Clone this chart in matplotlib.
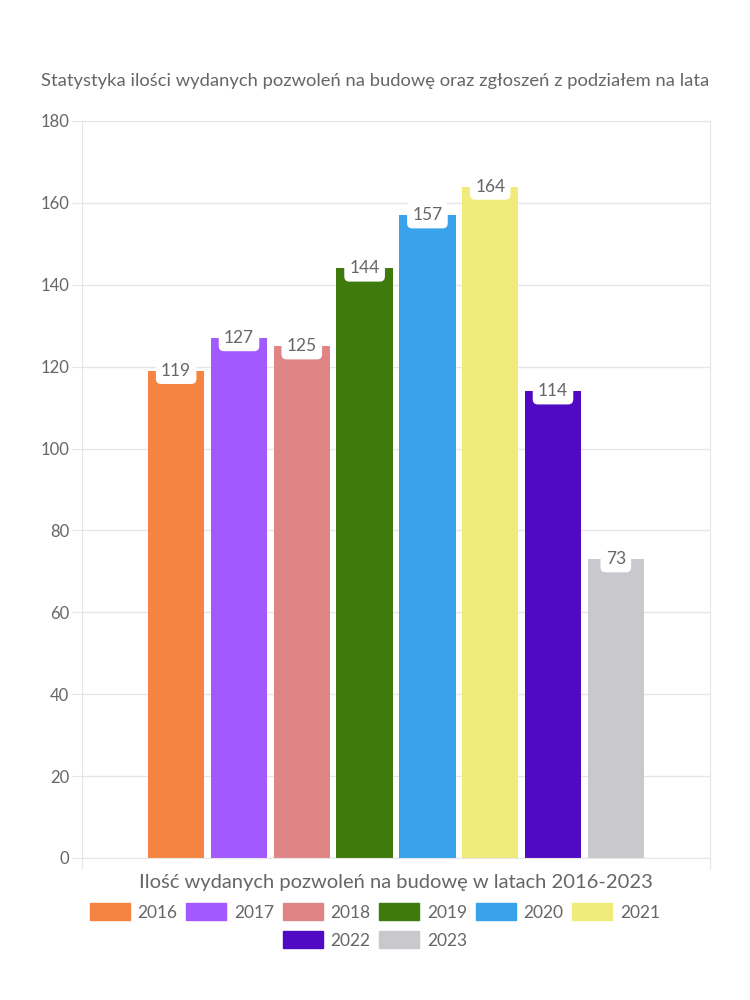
import matplotlib.pyplot as plt
from matplotlib.patches import Patch

plt.rcParams['font.family'] = ['Lato', 'DejaVu Sans']

years = ["2016", "2017", "2018", "2019", "2020", "2021", "2022", "2023"]
values = [119, 127, 125, 144, 157, 164, 114, 73]
colors = ["#f58442", "#a259ff", "#e08585", "#3e7b0c", "#38a3eb",
          "#f0eb7a", "#500ac4", "#c9c9cd"]

text_color = "#666666"
grid_color = "#e6e6e6"

fig = plt.figure(figsize=(7.5, 10), dpi=100)
ax = fig.add_axes([0.1093, 0.142, 0.8374, 0.737])

step = 0.1
for i, (yr, val, col) in enumerate(zip(years, values, colors)):
    x = (i - 3.5) * step
    ax.bar(x, val, width=0.09, color=col, zorder=2)
    ax.annotate(str(val), (x, val), ha="center", va="center",
                fontsize=12.5, color=text_color, zorder=4,
                bbox=dict(boxstyle="round,pad=0.3,rounding_size=0.3",
                          fc="white", ec="none"))

ax.set_xlim(-0.5, 0.5)
ax.set_ylim(0, 180)
ax.set_yticks(range(0, 181, 20))
ax.set_xticks([-0.5, 0.5])
ax.set_xticklabels(["", ""])
ax.tick_params(axis="y", colors=grid_color, labelcolor=text_color,
               labelsize=12, length=7, pad=2)
ax.tick_params(axis="x", colors=grid_color, length=8)
ax.grid(axis="y", color=grid_color, linewidth=1, zorder=0)
for s in ax.spines.values():
    s.set_color(grid_color)

ax.set_xlabel("Ilość wydanych pozwoleń na budowę w latach 2016-2023",
              fontsize=14.5, color=text_color, labelpad=0)
fig.text(0.5, 0.919, "Statystyka ilości wydanych pozwoleń na budowę oraz zgłoszeń z podziałem na lata",
         ha="center", va="center", fontsize=13.2, color=text_color)

handles = [Patch(color=c) for c in colors]
legend_style = dict(loc="center", frameon=False, fontsize=12.5,
                    handlelength=2.3, handleheight=1.1, columnspacing=0.5,
                    handletextpad=0.45, labelcolor=text_color)
leg1 = fig.legend(handles[:6], years[:6], ncol=6,
                  bbox_to_anchor=(0.5, 0.088), **legend_style)
fig.legend(handles[6:], years[6:], ncol=2,
           bbox_to_anchor=(0.5, 0.06), **legend_style)

plt.savefig("out.png", dpi=100)
